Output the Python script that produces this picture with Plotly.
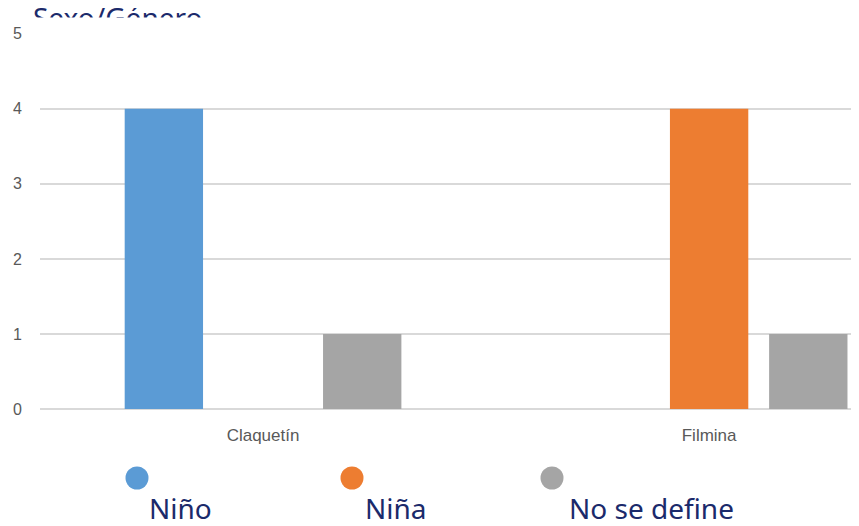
import plotly.graph_objects as go

# datos del gráfico
categorias = ['Claquetín', 'Filmina']
series = ['Niño', 'Niña', 'No se define']
nino = [4, 0]
nina = [0, 4]
no_define = [1, 1]
colores = ['#5b9bd5', '#ed7d31', '#a5a5a5']
y_ticks = [0, 1, 2, 3, 4, 5]

# la página añade 8 px de margen al cuerpo
OFF = 8
W, H = 859 - OFF, 526 - OFF
L, R, T, B = 40 - OFF, 0, 33 - OFF, 526 - 409


def px_x(x):
	# x de la página -> coordenada paper
	return (x - OFF - L) / (W - L - R)


def px_y(y):
	return (H - B - (y - OFF)) / (H - T - B)


fig = go.Figure()
for nombre, valores, color in zip(series, [nino, nina, no_define], colores):
	fig.add_trace(go.Bar(
		x=categorias,
		y=valores,
		name=nombre,
		marker=dict(color=color, line=dict(width=0)),
		showlegend=False
	))

fig.update_layout(
	width=W,
	height=H,
	margin=dict(l=L, r=R, t=T, b=B),
	paper_bgcolor='white',
	plot_bgcolor='white',
	barmode='group',
	bargap=0.333,
	bargroupgap=0.21,
	font=dict(family='Liberation Sans', size=16, color='#595959'),
	xaxis=dict(
		range=[-0.5, 1.336],
		showgrid=False,
		showline=False,
		zeroline=False,
		ticks='',
		ticklabelstandoff=14,
		tickfont=dict(size=17, color='#595959')
	),
	yaxis=dict(
		range=[0, 5.01],
		tickvals=y_ticks,
		showgrid=True,
		gridcolor='#d9d9d9',
		gridwidth=1.5,
		zeroline=True,
		zerolinecolor='#d9d9d9',
		zerolinewidth=1.5,
		showline=False,
		ticks='',
		ticklabelstandoff=17,
		tickfont=dict(size=16, color='#595959')
	)
)

# borde izquierdo tenue del área del gráfico
fig.add_shape(type='line', xref='paper', yref='paper',
	x0=px_x(2), x1=px_x(2), y0=px_y(18), y1=px_y(447),
	line=dict(color='#eeeeee', width=1))

# título recortado: solo se ve la parte superior
fig.add_annotation(
	text='Sexo/Género', xref='paper', yref='paper',
	x=px_x(31), y=px_y(-4), xanchor='left', yanchor='top',
	showarrow=False,
	font=dict(family='Noto Sans', size=28, color='#1b2a6b')
)
fig.add_annotation(
	text=' ', xref='paper', yref='paper',
	x=px_x(26), y=px_y(17), xanchor='left', yanchor='top',
	showarrow=False, bgcolor='white', width=W, height=14, borderpad=0,
	font=dict(size=6)
)

# leyenda personalizada
circulos_x = [137, 352, 552]
textos_x = [148, 364, 568]
for nombre, color, cx, tx in zip(series, colores, circulos_x, textos_x):
	fig.add_shape(type='circle', xref='paper', yref='paper',
		xsizemode='pixel', ysizemode='pixel',
		xanchor=px_x(cx), yanchor=px_y(478),
		x0=-11.5, x1=11.5, y0=-11.5, y1=11.5,
		fillcolor=color, line=dict(width=0))
	fig.add_annotation(
		text=nombre, xref='paper', yref='paper',
		x=px_x(tx), y=px_y(508), xanchor='left', yanchor='middle',
		showarrow=False, borderpad=0,
		font=dict(family='Noto Sans', size=28, color='#1b2a6b')
	)

fig.write_html('out.html')
